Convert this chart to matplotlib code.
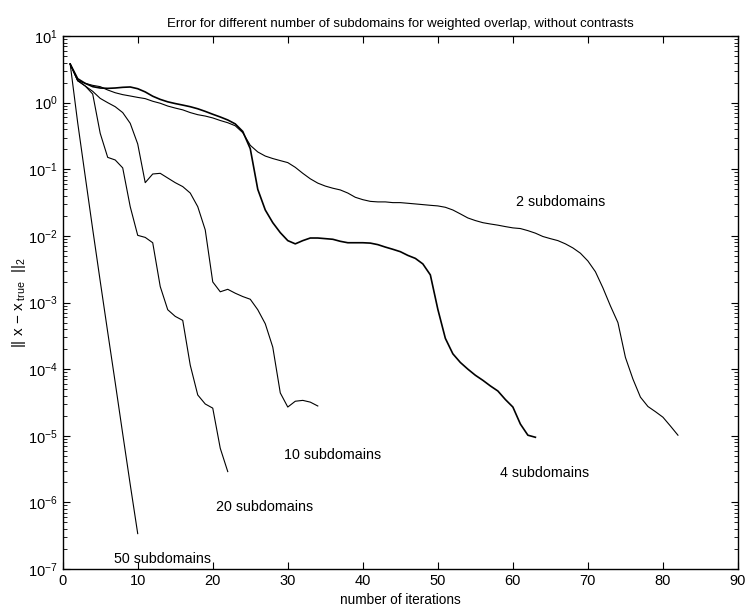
import numpy as np
import matplotlib
matplotlib.use("Agg")
import matplotlib.pyplot as plt

plt.rcParams['font.family'] = ['Liberation Sans', 'DejaVu Sans']
plt.rcParams['mathtext.fontset'] = 'custom'
plt.rcParams['mathtext.rm'] = 'Liberation Sans'
plt.rcParams['mathtext.it'] = 'Liberation Sans'

# error history per iteration count
err_2 = [3.8, 2.14, 1.95, 1.82, 1.74, 1.55, 1.41, 1.32, 1.26, 1.20,
         1.15, 1.05, 0.98, 0.89, 0.83, 0.78, 0.71, 0.66, 0.63, 0.59,
         0.54, 0.50, 0.45, 0.355, 0.229, 0.182, 0.158, 0.145, 0.135, 0.126,
         0.107, 0.087, 0.072, 0.062, 0.056, 0.052, 0.049, 0.044, 0.038, 0.035,
         0.033, 0.0324, 0.0324, 0.0316, 0.0316, 0.0309, 0.0302, 0.0295, 0.0288, 0.0282,
         0.0269, 0.0245, 0.0214, 0.0186, 0.017, 0.0158, 0.0151, 0.0145, 0.0138, 0.0132,
         0.0129, 0.012, 0.011, 9.8e-3, 9.1e-3, 8.5e-3, 7.6e-3, 6.6e-3, 5.5e-3, 4.2e-3,
         2.9e-3, 1.66e-3, 8.9e-4, 5.0e-4, 1.5e-4, 7.1e-5, 3.8e-5, 2.75e-5, 2.3e-5, 1.9e-5,
         1.4e-5, 1.02e-5]
err_4 = [3.8, 2.29, 1.95, 1.74, 1.66, 1.64, 1.66, 1.70, 1.72, 1.62,
         1.45, 1.25, 1.12, 1.03, 0.97, 0.92, 0.87, 0.81, 0.74, 0.67,
         0.61, 0.55, 0.48, 0.37, 0.204, 0.050, 0.0245, 0.0158, 0.0112, 8.5e-3,
         7.6e-3, 8.5e-3, 9.3e-3, 9.3e-3, 9.1e-3, 8.9e-3, 8.3e-3, 7.9e-3, 7.9e-3, 7.9e-3,
         7.8e-3, 7.4e-3, 6.8e-3, 6.3e-3, 5.8e-3, 5.1e-3, 4.6e-3, 3.8e-3, 2.6e-3, 7.9e-4,
         2.9e-4, 1.7e-4, 1.26e-4, 1.0e-4, 8.1e-5, 6.8e-5, 5.6e-5, 4.7e-5, 3.5e-5, 2.7e-5,
         1.5e-5, 1.02e-5, 9.5e-6]
err_10 = [3.8, 2.14, 1.78, 1.48, 1.16, 1.0, 0.87, 0.71, 0.49, 0.24,
          0.063, 0.085, 0.087, 0.074, 0.063, 0.055, 0.044, 0.0275, 0.0123, 2.04e-3,
          1.45e-3, 1.58e-3, 1.38e-3, 1.23e-3, 1.12e-3, 7.8e-4, 4.8e-4, 2.14e-4, 4.4e-5, 2.7e-5,
          3.3e-5, 3.4e-5, 3.2e-5, 2.8e-5]
err_20 = [3.8, 2.14, 1.78, 1.35, 0.347, 0.151, 0.138, 0.105, 0.0275, 0.0102,
          9.5e-3, 7.9e-3, 1.74e-3, 7.8e-4, 6.2e-4, 5.4e-4, 1.15e-4, 4.1e-5, 3.0e-5, 2.6e-5,
          6.5e-6, 2.9e-6]
err_50 = [3.8, 0.50, 0.079, 0.0126, 2.1e-3, 3.6e-4, 6.3e-5, 1.07e-5, 1.86e-6, 3.4e-7]

labels = ['2 subdomains', '4 subdomains', '10 subdomains', '20 subdomains', '50 subdomains']
label_x = [60.4, 58.3, 29.5, 20.5, 6.85]
label_y = [0.032, 2.8e-6, 5.2e-6, 8.5e-7, 1.4e-7]

fig = plt.figure(figsize=(7.48, 6.11), dpi=100)
ax = fig.add_axes([0.0838, 0.0687, 0.9028, 0.8723])

curves = [err_2, err_4, err_10, err_20, err_50]
widths = [0.8, 1.2, 0.8, 0.8, 0.8]
for err, lw in zip(curves, widths):
    it = np.arange(1, len(err) + 1)
    ax.semilogy(it, err, color='black', linewidth=lw)

for txt, x, y in zip(labels, label_x, label_y):
    ax.text(x, y, txt, fontsize=10.3, ha='left', va='center')

ax.set_xlim(0, 90)
ax.set_ylim(1e-7, 10)
ax.set_xticks(np.arange(0, 91, 10))
ax.set_yticks([10.0 ** k for k in range(-7, 2)])
ax.tick_params(which='both', direction='in', top=True, right=True, labelsize=10.5)
ax.tick_params(which='major', length=5, width=0.8)
ax.tick_params(which='minor', length=3, width=0.6)
for s in ax.spines.values():
    s.set_linewidth(1.0)

ax.set_title('Error for different number of subdomains for weighted overlap, without contrasts',
             fontsize=9.5, pad=6.5)
ax.set_xlabel('number of iterations', fontsize=9.8, labelpad=4)
ax.set_ylabel(r'|| x $-$ x$_{\ \mathrm{true}}$  ||$_2$', fontsize=11, labelpad=0)

fig.savefig('out.png', dpi=100)
